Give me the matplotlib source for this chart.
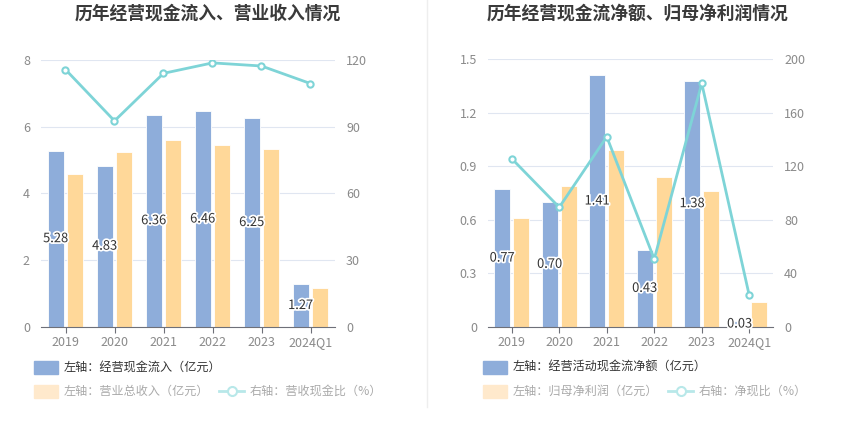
import matplotlib
matplotlib.use('Agg')
import matplotlib.pyplot as plt
import matplotlib.patheffects as pe
from matplotlib.patches import Rectangle
from matplotlib.lines import Line2D
import numpy as np

plt.rcParams['font.family'] = ['Noto Sans CJK SC', 'DejaVu Sans']

years = ['2019', '2020', '2021', '2022', '2023', '2024Q1']

# left chart
cash_in = [5.28, 4.83, 6.36, 6.46, 6.25, 1.27]
revenue = [4.58, 5.23, 5.60, 5.45, 5.33, 1.17]
cash_ratio = [115.7, 92.6, 114.0, 118.7, 117.3, 109.4]

# right chart
net_cash = [0.77, 0.70, 1.41, 0.43, 1.38, 0.03]
net_profit = [0.61, 0.79, 0.99, 0.84, 0.76, 0.14]
net_ratio = [125.7, 89.3, 142.1, 50.6, 182.0, 23.4]

BLUE = '#8EADDA'
ORANGE = '#FFD899'
TEAL = '#7ED4D7'
GRID = '#E0E6F1'
TICK = '#8A8A8A'

W, H = 850, 437
fig = plt.figure(figsize=(W / 100, H / 100), dpi=100)


def fx(px):
    return px / W


def fy(py):
    return 1 - py / H


def panel(rect, bars1, bars2, line, lticks, rticks, lfmt, title, tcx,
          legends, lx):
    ax = fig.add_axes(rect)
    x = np.arange(len(years))
    w = 0.333
    ax.bar(x - 0.2, bars1, w, color=BLUE, edgecolor='white', linewidth=0.6, zorder=2)
    ax.bar(x + 0.2, bars2, w, color=ORANGE, edgecolor='white', linewidth=0.6, zorder=2)
    for xi, v in zip(x, bars1):
        ax.text(xi - 0.2, v / 2, lfmt.format(v), ha='center', va='center',
                fontsize=9.3, color='#333333', zorder=5,
                path_effects=[pe.withStroke(linewidth=2.5, foreground='white')])
    ax.set_xlim(-0.5, len(years) - 0.5)
    ax.set_ylim(lticks[0], lticks[-1])
    ax.set_yticks(lticks)
    ax.set_yticklabels([('%g' % t) for t in lticks])
    ax.set_xticks(x)
    ax.set_xticklabels(years)
    ax.grid(axis='y', color=GRID, linewidth=0.8, zorder=0)
    ax.set_axisbelow(True)
    for s in ['top', 'right', 'left']:
        ax.spines[s].set_visible(False)
    ax.spines['bottom'].set_color('#6E7079')
    ax.tick_params(axis='y', length=0, labelsize=9, labelcolor=TICK, pad=8)
    ax.tick_params(axis='x', length=4, color='#6E7079', labelsize=9,
                   labelcolor=TICK, pad=3)

    ax2 = ax.twinx()
    ax2.plot(x, line, color=TEAL, linewidth=2, marker='o', markersize=4.5,
             markerfacecolor='white', markeredgecolor=TEAL, markeredgewidth=1.5,
             zorder=4)
    ax2.set_ylim(rticks[0], rticks[-1])
    ax2.set_yticks(rticks)
    for s in ax2.spines.values():
        s.set_visible(False)
    ax2.tick_params(axis='y', length=0, labelsize=9, labelcolor=TICK, pad=8)

    fig.text(fx(tcx), fy(14), title, ha='center', va='center', fontsize=12.8,
             fontweight='bold', color='#3A3A3A')

    # legend
    fig.patches.append(Rectangle((fx(lx), fy(374)), fx(24), 13 / H,
                                 transform=fig.transFigure, color=BLUE,
                                 zorder=3))
    fig.text(fx(lx + 30), fy(367), legends[0], va='center', fontsize=8.7,
             color='#333333')
    fig.patches.append(Rectangle((fx(lx), fy(398)), fx(24), 13 / H,
                                 transform=fig.transFigure, color='#FFE9CC',
                                 zorder=3))
    fig.text(fx(lx + 30), fy(391), legends[1], va='center', fontsize=8.7,
             color='#AAAAAA')
    lx3 = lx + 185
    fig.lines.append(Line2D([fx(lx3), fx(lx3 + 25)], [fy(391), fy(391)],
                            transform=fig.transFigure, color='#B8E8E9',
                            linewidth=2, zorder=3))
    fig.lines.append(Line2D([fx(lx3 + 12.5)], [fy(391)],
                            transform=fig.transFigure, color='#B8E8E9',
                            linewidth=0, marker='o', markersize=6.5,
                            markerfacecolor='white', markeredgewidth=1.5,
                            zorder=4))
    fig.text(fx(lx3 + 31), fy(391), legends[2], va='center', fontsize=8.7,
             color='#AAAAAA')


panel([fx(41), fy(326.7), fx(335 - 41), (326.7 - 60) / H],
      cash_in, revenue, cash_ratio,
      [0, 2, 4, 6, 8], [0, 30, 60, 90, 120], '{:.2f}',
      '历年经营现金流入、营业收入情况', 208,
      ['左轴：经营现金流入（亿元）', '左轴：营业总收入（亿元）', '右轴：营收现金比（%）'],
      34)

panel([fx(488), fy(326.7), fx(773 - 488), (326.7 - 59.3) / H],
      net_cash, net_profit, net_ratio,
      [0, 0.3, 0.6, 0.9, 1.2, 1.5], [0, 40, 80, 120, 160, 200], '{:.2f}',
      '历年经营现金流净额、归母净利润情况', 638,
      ['左轴：经营活动现金流净额（亿元）', '左轴：归母净利润（亿元）', '右轴：净现比（%）'],
      483)

fig.lines.append(Line2D([fx(427), fx(427)], [fy(0), fy(407)],
                        transform=fig.transFigure, color='#EEEEEE',
                        linewidth=1))

fig.savefig('out.png', dpi=100, facecolor='white')
